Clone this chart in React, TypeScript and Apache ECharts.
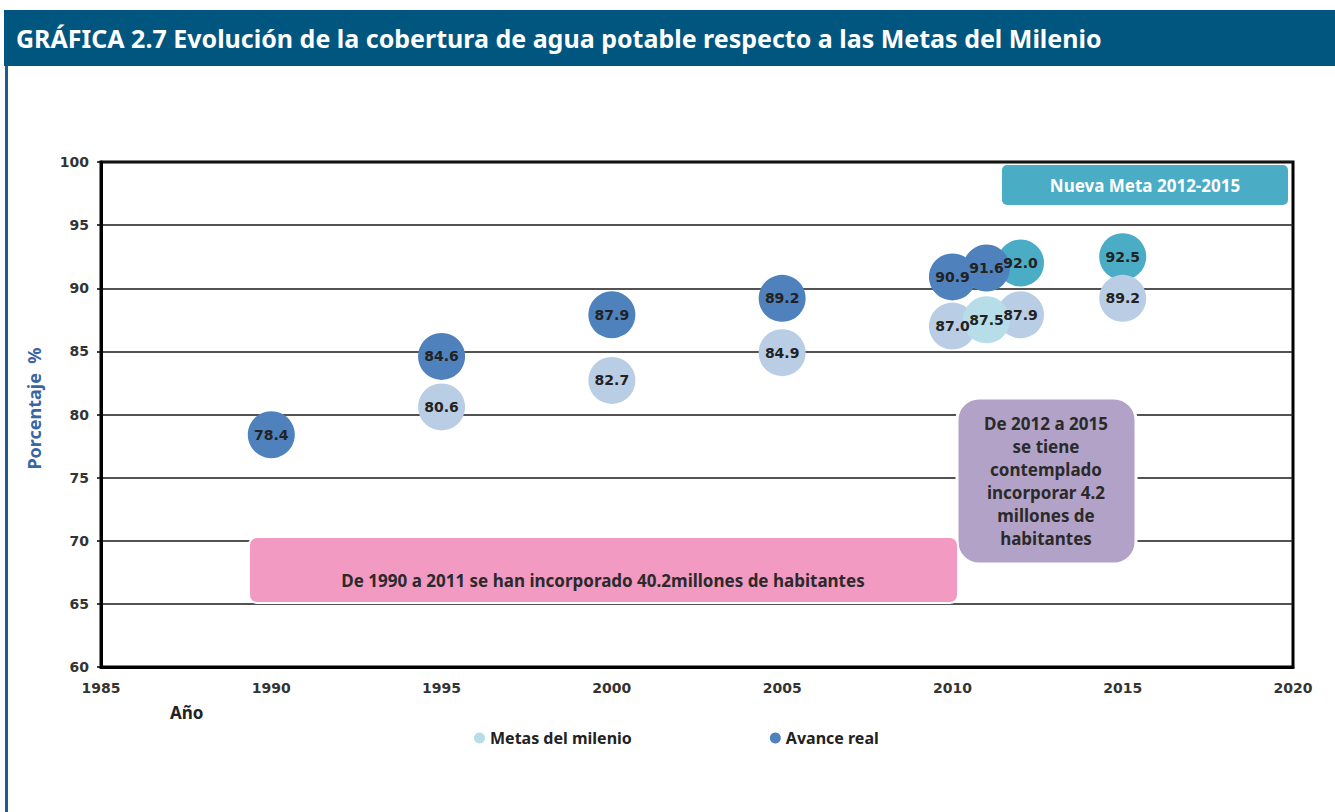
import React, { useEffect, useRef } from "react";
import * as echarts from "echarts";

const titleText = "GRÁFICA 2.7 Evolución de la cobertura de agua potable respecto a las Metas del Milenio";
const yAxisName = "Porcentaje  %";
const xAxisName = "Año";

// Avance real
const avanceYears = [1990, 1995, 2000, 2005, 2010, 2011];
const avanceValues = [78.4, 84.6, 87.9, 89.2, 90.9, 91.6];

// Metas del milenio (2011 drawn last, highlighted)
const metasYears = [1995, 2000, 2005, 2010, 2012, 2015, 2011];
const metasValues = [80.6, 82.7, 84.9, 87.0, 87.9, 89.2, 87.5];
const metasHighlightYear = 2011;

// Nueva meta 2012-2015
const nuevaYears = [2012, 2015];
const nuevaValues = [92.0, 92.5];

const xMin = 1985, xMax = 2020, xStep = 5;
const yMin = 60, yMax = 100, yStep = 5;

const noteNueva = "Nueva Meta 2012-2015";
const notePurple = ["De 2012 a 2015", "se tiene", "contemplado", "incorporar 4.2", "millones de", "habitantes"];
const notePink = "De 1990 a 2011 se han incorporado 40.2millones de habitantes";

const C_DARK = "#4f81bd";
const C_META = "#b9cde5";
const C_META_HL = "#b7dee8";
const C_TEAL = "#4bacc6";

export default function App() {
  const ref = useRef<HTMLDivElement>(null);
  useEffect(() => {
    if (!ref.current) return;
    const chart = echarts.init(ref.current, undefined, { renderer: "svg" });
    const labelStyle = {
      show: true,
      position: "inside" as const,
      fontFamily: "DejaVu Sans",
      fontWeight: "bold" as const,
      fontSize: 14,
      color: "#222",
      formatter: (p: any) => Number(p.value[1]).toFixed(1),
    };
    const sym = 47;
    chart.setOption({
      animation: false,
      backgroundColor: "#fff",
      grid: { left: 101, right: 42, top: 162, bottom: 145, show: true, borderColor: "#000", borderWidth: 3 },
      xAxis: {
        type: "value", min: xMin, max: xMax, interval: xStep,
        axisLine: { show: true, onZero: false, lineStyle: { color: "#000", width: 3 } },
        axisTick: { show: false },
        splitLine: { show: false },
        axisLabel: { margin: 14, fontFamily: "DejaVu Sans", fontWeight: "bold", fontSize: 14, color: "#333", formatter: (v: number) => String(v) },
      },
      yAxis: {
        type: "value", min: yMin, max: yMax, interval: yStep,
        name: yAxisName, nameLocation: "middle", nameGap: 58,
        nameTextStyle: { fontFamily: "Noto Sans", fontWeight: "bold", fontSize: 18, color: "#3b65a2", padding: [0, 0, 0, 12] },
        axisLine: { show: true, lineStyle: { color: "#000", width: 3 } },
        axisTick: { show: true, length: 4, lineStyle: { color: "#000", width: 1.5 } },
        splitLine: { show: true, lineStyle: { color: "#1a1a1a", width: 1.5 } },
        axisLabel: { margin: 12, fontFamily: "DejaVu Sans", fontWeight: "bold", fontSize: 14, color: "#333" },
      },
      legend: {
        data: ["Metas del milenio", "Avance real"],
        left: 469, top: 725, icon: "circle", itemWidth: 11, itemHeight: 11, itemGap: 138,
        textStyle: { fontFamily: "Noto Sans", fontWeight: "bold", fontSize: 16, color: "#222" },
        selectedMode: false,
      },
      series: [
        {
          name: "Nueva meta", type: "scatter", symbolSize: sym,
          itemStyle: { color: C_TEAL, opacity: 1 },
          data: nuevaYears.map((y, i) => [y, nuevaValues[i]]),
          label: labelStyle, emphasis: { disabled: true },
        },
        {
          name: "Metas del milenio", type: "scatter", symbolSize: sym,
          itemStyle: { color: C_META_HL, opacity: 1 },
          data: metasYears.map((y, i) => ({
            value: [y, metasValues[i]],
            itemStyle: { color: y === metasHighlightYear ? C_META_HL : C_META },
          })),
          label: labelStyle, emphasis: { disabled: true },
        },
        {
          name: "Avance real", type: "scatter", symbolSize: sym,
          itemStyle: { color: C_DARK, opacity: 1 },
          data: avanceYears.map((y, i) => [y, avanceValues[i]]),
          label: labelStyle, emphasis: { disabled: true },
        },
      ],
      graphic: [
        { type: "rect", z: 100, shape: { x: 4, y: 10, width: 1331, height: 56 }, style: { fill: "#00567f" } },
        {
          type: "text", z: 101, x: 16, y: 38,
          style: { text: titleText, fill: "#fff", font: "bold 25px 'Noto Sans'", verticalAlign: "middle" },
        },
        { type: "rect", z: 100, shape: { x: 5, y: 66, width: 3, height: 746 }, style: { fill: "#1d5d8c" } },
        { type: "rect", z: 100, shape: { x: 1002, y: 165, width: 286, height: 40, r: 5 }, style: { fill: C_TEAL } },
        {
          type: "text", z: 101, x: 1145, y: 185,
          style: { text: noteNueva, fill: "#fff", font: "bold 17px 'Noto Sans'", align: "center", verticalAlign: "middle" },
        },
        { type: "rect", z: 100, shape: { x: 957, y: 398, width: 179, height: 166, r: 22 }, style: { fill: "#b3a2c7", stroke: "#fff", lineWidth: 3 } },
        {
          type: "text", z: 101, x: 1046, y: 481,
          style: { text: notePurple.join("\n"), fill: "#2a2a2a", font: "bold 17px 'Noto Sans'", align: "center", verticalAlign: "middle", lineHeight: 23 },
        },
        { type: "rect", z: 100, shape: { x: 249, y: 537, width: 709, height: 66, r: 8 }, style: { fill: "#f39ac2", stroke: "#fff", lineWidth: 2 } },
        {
          type: "text", z: 101, x: 603, y: 580,
          style: { text: notePink, fill: "#2a2a2a", font: "bold 17px 'Noto Sans'", align: "center", verticalAlign: "middle" },
        },
        {
          type: "text", z: 101, x: 170, y: 712,
          style: { text: xAxisName, fill: "#222", font: "bold 17px 'Noto Sans'", verticalAlign: "middle" },
        },
      ],
    });
    return () => chart.dispose();
  }, []);
  return <div ref={ref} style={{ position: "absolute", left: 0, top: 0, width: 1335, height: 812 }} />;
}
